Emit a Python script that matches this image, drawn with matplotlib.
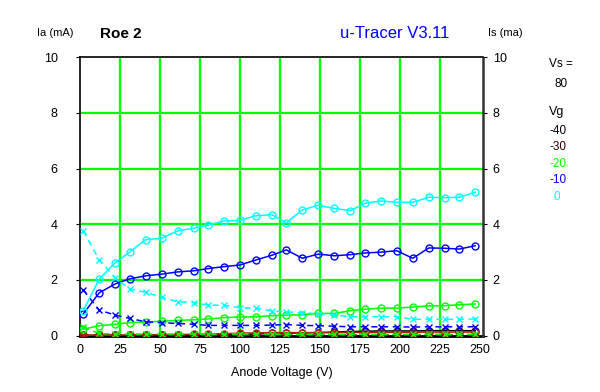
import matplotlib
matplotlib.use("Agg")
import matplotlib.pyplot as plt

# ---- data ----
va = [2, 12, 22, 31, 41, 51, 61, 71, 80, 90, 100, 110, 120, 129, 139, 149,
      159, 169, 178, 188, 198, 208, 218, 228, 237, 247]

ia_0 = [0.90, 2.03, 2.62, 3.00, 3.45, 3.50, 3.76, 3.86, 3.97, 4.12, 4.14, 4.31, 4.34,
        4.05, 4.52, 4.68, 4.57, 4.49, 4.75, 4.84, 4.79, 4.79, 4.97, 4.96, 4.97, 5.15]
is_0 = [3.77, 2.72, 2.08, 1.68, 1.56, 1.38, 1.22, 1.19, 1.10, 1.09, 1.01, 0.98, 0.89,
        0.86, 0.82, 0.79, 0.75, 0.68, 0.68, 0.68, 0.68, 0.59, 0.59, 0.59, 0.59, 0.60]
ia_10 = [0.78, 1.54, 1.86, 2.04, 2.15, 2.21, 2.29, 2.33, 2.41, 2.48, 2.54, 2.72, 2.89,
         3.08, 2.78, 2.93, 2.87, 2.91, 2.97, 3.00, 3.05, 2.78, 3.15, 3.14, 3.11, 3.23]
is_10 = [1.64, 0.92, 0.74, 0.62, 0.50, 0.47, 0.44, 0.41, 0.37, 0.37, 0.37, 0.37, 0.38,
         0.40, 0.37, 0.36, 0.34, 0.32, 0.32, 0.32, 0.32, 0.31, 0.32, 0.32, 0.32, 0.32]
ia_20 = [0.23, 0.36, 0.41, 0.47, 0.49, 0.52, 0.55, 0.57, 0.60, 0.65, 0.67, 0.68, 0.72,
         0.74, 0.75, 0.80, 0.80, 0.90, 0.95, 0.99, 0.99, 1.03, 1.07, 1.08, 1.11, 1.14]
is_20 = [0.30, 0.08, 0.06, 0.06, 0.06, 0.06, 0.06, 0.06, 0.06, 0.06, 0.06, 0.06, 0.06,
         0.05, 0.05, 0.05, 0.05, 0.05, 0.05, 0.05, 0.05, 0.05, 0.05, 0.05, 0.05, 0.05]
ia_30 = [0.02, 0.02, 0.02, 0.03, 0.03, 0.04, 0.04, 0.05, 0.06, 0.07, 0.09, 0.10, 0.11,
         0.11, 0.11, 0.11, 0.11, 0.12, 0.12, 0.12, 0.12, 0.12, 0.13, 0.13, 0.13, 0.13]
is_30 = [0.02] * 26
ia_40 = [0.01, 0.01, 0.01, 0.01, 0.02, 0.02, 0.02, 0.03, 0.04, 0.04, 0.05, 0.06, 0.08,
         0.09, 0.10, 0.11, 0.13, 0.15, 0.16, 0.17, 0.17, 0.17, 0.18, 0.18, 0.18, 0.18]
is_40 = [0.01] * 26

vg_labels = ["-40", "-30", "-20", "-10", "0"]
vg_colors = ["#000000", "#b02000", "#00ff00", "#0000ff", "#00ffff"]
ia_series = [ia_40, ia_30, ia_20, ia_10, ia_0]
is_series = [is_40, is_30, is_20, is_10, is_0]

xticks = [0, 25, 50, 75, 100, 125, 150, 175, 200, 225, 250]
yticks = [0, 2, 4, 6, 8, 10]

plt.rcParams['font.family'] = ['Liberation Sans', 'DejaVu Sans']

fig = plt.figure(figsize=(6.0, 3.92), dpi=100)
ax = fig.add_axes([80/600, 1-335.7/392, 403/600, (335.7-57.2)/392])
ax.set_xlim(0, 251.9)
ax.set_ylim(0, 10)

# grid
for gx in xticks[1:-1]:
    ax.axvline(gx, color="#00ff00", lw=1.6, zorder=1)
for gy in yticks[1:-1]:
    ax.axhline(gy, color="#00ff00", lw=1.6, zorder=1)

for lab, col, ia, is_ in zip(vg_labels, vg_colors, ia_series, is_series):
    ax.plot(va, ia, color=col, lw=1.1, marker='o', ms=5, mfc='none', mec=col,
            mew=1.0, zorder=3)
    ax.plot(va, is_, color=col, lw=1.1, ls=(0, (4, 3)), marker='x', ms=5,
            mew=1.0, zorder=3)

ax.set_xticks(xticks)
ax.set_yticks(yticks)
ax.tick_params(axis='x', length=0, pad=6, labelsize=9)
ax.tick_params(axis='y', length=3, pad=13, labelsize=9, direction='out')
for s in ['left', 'top', 'bottom']:
    ax.spines[s].set_color('black')
    ax.spines[s].set_linewidth(1.2)
ax.spines['bottom'].set_linewidth(2)
ax.spines['right'].set_visible(False)

ax2 = ax.twinx()
ax2.set_ylim(0, 10)
ax2.set_yticks(yticks)
ax2.tick_params(axis='y', length=3, pad=4, labelsize=9, direction='out')
ax2.spines['right'].set_linestyle((0, (1, 1)))
ax2.spines['right'].set_linewidth(1.8)
ax2.spines['right'].set_color('#333333')
for s in ['left', 'top', 'bottom']:
    ax2.spines[s].set_visible(False)

ax.set_xlabel("Anode Voltage (V)", fontsize=9, labelpad=8)

fig.text(37/600, 1-33/392, "Ia (mA)", fontsize=8, ha='left', va='center')
fig.text(100/600, 1-34/392, "Roe 2", fontsize=11, fontweight='bold', ha='left', va='center')
fig.text(395/600, 1-33/392, "u-Tracer V3.11", fontsize=12, color='#0000ff',
         ha='center', va='center')
fig.text(488/600, 1-33/392, "Is (ma)", fontsize=8, ha='left', va='center')
fig.text(561/600, 1-64/392, "Vs =", fontsize=8.5, ha='center', va='center')
fig.text(561/600, 1-84/392, "80", fontsize=8.5, ha='center', va='center')
fig.text(557/600, 1-112/392, "Vg", fontsize=9, ha='center', va='center')
leg_y = [131, 147, 164, 180, 197]
leg_x = [550, 550, 550, 550, 554]
for lab, col, yy, xx in zip(vg_labels, vg_colors, leg_y, leg_x):
    tc = '#300000' if lab == "-30" else col
    fig.text(xx/600, 1-yy/392, lab, fontsize=8.5, color=tc, ha='left', va='center')

fig.savefig("out.png", dpi=100)
